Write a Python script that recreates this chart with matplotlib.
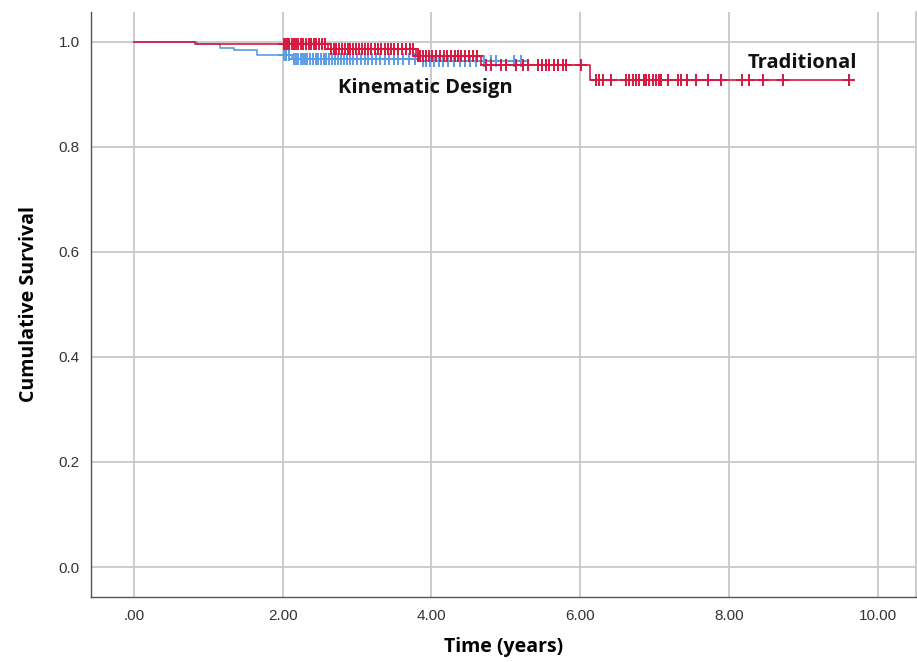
import matplotlib
matplotlib.use("Agg")
import matplotlib.pyplot as plt
import numpy as np

# ---- Data ----
# Traditional: step changes (time, survival after step)
trad_step_times = [0.0, 0.82, 2.61, 3.79, 4.66, 6.13]
trad_step_surv = [1.0, 0.995, 0.986, 0.973, 0.956, 0.928]
trad_end = 9.62
trad_censor = [2.01, 2.03, 2.05, 2.07, 2.09, 2.12, 2.15, 2.18, 2.21, 2.24, 2.27, 2.31,
               2.35, 2.38, 2.42, 2.45, 2.49, 2.53, 2.57,
               2.65, 2.69, 2.72, 2.76, 2.80, 2.84, 2.88, 2.91, 2.95, 2.99, 3.03, 3.07,
               3.11, 3.15, 3.19, 3.24, 3.28, 3.32, 3.37, 3.41, 3.46, 3.50, 3.55, 3.60,
               3.66, 3.71, 3.75,
               3.82, 3.85, 3.88, 3.92, 3.97, 4.01, 4.06, 4.12, 4.17, 4.21, 4.26, 4.31,
               4.36, 4.40, 4.45, 4.50, 4.56, 4.61,
               4.73, 4.80, 4.93, 5.00, 5.13, 5.23, 5.30, 5.43, 5.49, 5.54, 5.58, 5.65,
               5.70, 5.77, 5.81, 6.01,
               6.21, 6.25, 6.30, 6.41, 6.62, 6.66, 6.71, 6.75, 6.79, 6.86, 6.89, 6.92,
               6.98, 7.02, 7.06, 7.09, 7.18, 7.32, 7.36, 7.43, 7.56, 7.72, 7.90, 8.17,
               8.27, 8.46, 8.73, 9.62]

# Kinematic Design
kin_step_times = [0.0, 0.85, 1.15, 1.35, 1.65, 2.12, 3.85]
kin_step_surv = [1.0, 0.995, 0.989, 0.984, 0.975, 0.968, 0.963]
kin_end = 5.23
kin_censor = [2.01, 2.04, 2.08,
              2.15, 2.18, 2.21, 2.24, 2.27, 2.30, 2.33, 2.37, 2.40, 2.44, 2.47, 2.51,
              2.55, 2.58, 2.62, 2.66, 2.70, 2.74, 2.78, 2.82, 2.86, 2.90, 2.95, 3.00,
              3.05, 3.10, 3.15, 3.20, 3.26, 3.31, 3.37, 3.43, 3.49, 3.55, 3.62, 3.70,
              3.78,
              3.88, 3.93, 3.98, 4.04, 4.10, 4.16, 4.22, 4.30, 4.38, 4.45, 4.52, 4.60,
              4.70, 4.80, 4.87, 5.11, 5.20]

x_ticks = [0, 2, 4, 6, 8, 10]
x_tick_labels = [".00", "2.00", "4.00", "6.00", "8.00", "10.00"]
y_ticks = [0.0, 0.2, 0.4, 0.6, 0.8, 1.0]
y_tick_labels = ["0.0", "0.2", "0.4", "0.6", "0.8", "1.0"]

RED = "#D9173F"
BLUE = "#5C9CE6"


def surv_at(t, times, surv):
    idx = np.searchsorted(times, t, side="right") - 1
    return np.asarray(surv)[idx]


fig = plt.figure(figsize=(9.17, 6.62), dpi=100)
ax = fig.add_axes([0.0992, 0.0982, 0.9, 0.884])

ax.set_xlim(-0.58, 10.52)
ax.set_ylim(-0.057, 1.057)

ax.set_xticks(x_ticks)
ax.set_xticklabels(x_tick_labels)
ax.set_yticks(y_ticks)
ax.set_yticklabels(y_tick_labels)
ax.grid(True, color="#c8c8c8", linewidth=1.3)
ax.set_axisbelow(True)
ax.tick_params(length=0, labelsize=11, labelcolor="#333333")
ax.tick_params(axis="x", pad=9)
ax.tick_params(axis="y", pad=8)
for lab in ax.get_xticklabels() + ax.get_yticklabels():
    lab.set_fontfamily("Liberation Sans")

for s in ["left", "bottom"]:
    ax.spines[s].set_color("#555555")
    ax.spines[s].set_linewidth(1.0)
ax.spines["top"].set_visible(False)
ax.spines["right"].set_color("#c8c8c8")
ax.spines["right"].set_linewidth(1.3)


def draw_curve(times, surv, end, censor, color, z):
    xs = list(times) + [end]
    ys = list(surv) + [surv[-1]]
    ax.step(xs, ys, where="post", color=color, linewidth=1.2, zorder=z)
    cy = surv_at(np.array(censor), times, surv)
    ax.plot(censor, cy, linestyle="none", marker="+", markersize=8,
            markeredgewidth=1.4, color=color, zorder=z)


draw_curve(kin_step_times, kin_step_surv, kin_end, kin_censor, BLUE, 3)
draw_curve(trad_step_times, trad_step_surv, trad_end, trad_censor, RED, 4)

ax.text(9.72, 0.96, "Traditional", fontsize=14.5, fontweight="bold",
        family="Open Sans", ha="right", va="center", color="#111111")
ax.text(3.92, 0.912, "Kinematic Design", fontsize=14.5, fontweight="bold",
        family="Open Sans", ha="center", va="center", color="#111111")

ax.set_xlabel("Time (years)", fontsize=14, fontweight="bold", family="Open Sans",
              labelpad=10)
ax.set_ylabel("Cumulative Survival", fontsize=14, fontweight="bold", family="Open Sans",
              labelpad=14)

fig.savefig("out.png", dpi=100)
